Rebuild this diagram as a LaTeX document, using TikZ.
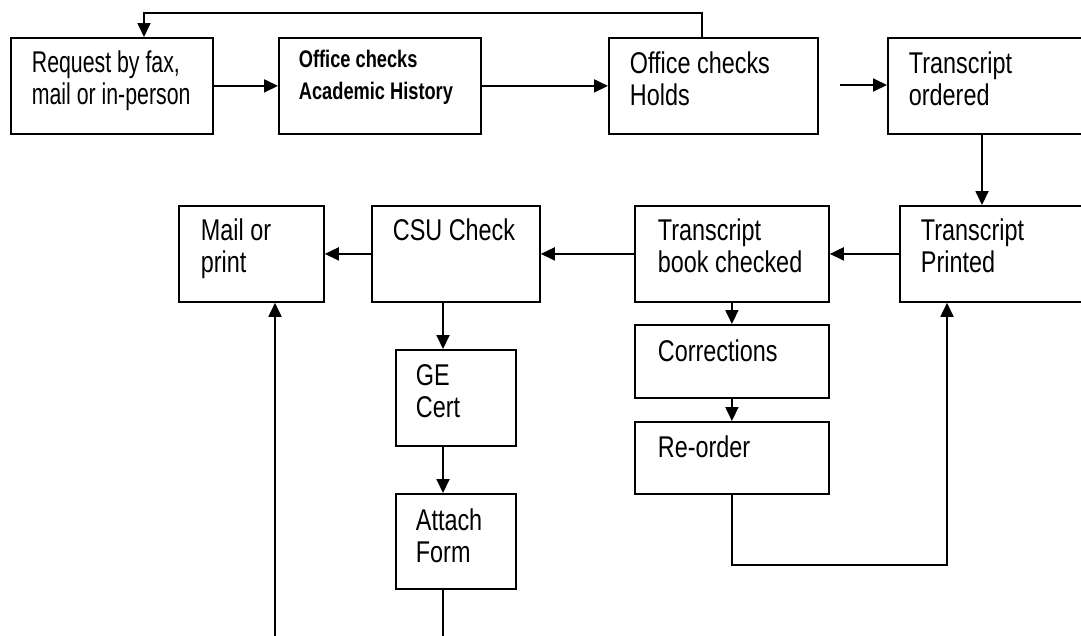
\documentclass[tikz,border=0pt]{standalone}
\usepackage{fontspec}
\setmainfont{Liberation Sans}[FakeStretch=0.78]
\newfontfamily\narrowbold{Liberation Sans Bold}[FakeStretch=0.76]
\usetikzlibrary{arrows.meta}
% stacked lines whose base is the first line's baseline
\newcommand\boxlines[1]{\begin{tabular}[t]{@{}l@{}}#1\end{tabular}}
\begin{document}
\begin{tikzpicture}[x=1pt,y=-1pt,
  line width=1.8pt,
  box/.style={draw, rectangle, inner sep=0pt, anchor=north west},
  txt/.style={anchor=base west, inner sep=0pt,
    font=\fontsize{30}{32}\selectfont},
  boldtxt/.style={txt, font=\fontsize{24}{32}\selectfont\narrowbold},
  arr/.style={-{Triangle[length=14pt,width=13pt]}}
]
\clip (0,0) rectangle (1081,635);

% boxes: top-left corner, width, height
\node[box, minimum width=202pt, minimum height=96pt] (req)   at (10,37)   {};
\node[box, minimum width=202pt, minimum height=96pt] (acad)  at (278,37)  {};
\node[box, minimum width=209pt, minimum height=96pt] (holds) at (608,37)  {};
\node[box, minimum width=210pt, minimum height=96pt] (ord)   at (887,37)  {};
\node[box, minimum width=145pt, minimum height=96pt] (mail)  at (178,205) {};
\node[box, minimum width=168pt, minimum height=96pt] (csu)   at (371,205) {};
\node[box, minimum width=194pt, minimum height=96pt] (book)  at (634,205) {};
\node[box, minimum width=200pt, minimum height=96pt] (prn)   at (899,205) {};
\node[box, minimum width=194pt, minimum height=73pt] (corr)  at (634,324) {};
\node[box, minimum width=194pt, minimum height=72pt] (reord) at (634,421) {};
\node[box, minimum width=120pt, minimum height=96pt] (ge)    at (395,349) {};
\node[box, minimum width=120pt, minimum height=95pt] (att)   at (395,493) {};

% box labels
\node[txt]     (reqt)   at (31,72)   {\scalebox{0.91}[1]{\boxlines{Request by fax,\\mail or in-person}}};
\node[boldtxt] (acadt)  at (298,67)  {\boxlines{Office checks\\Academic History}};
\node[txt]     (holdst) at (629,73)  {\boxlines{Office checks\\Holds}};
\node[txt]     (ordt)   at (908,73)  {\boxlines{Transcript\\ordered}};
\node[txt]     (mailt)  at (200,240) {\boxlines{Mail or\\print}};
\node[txt]     (csut)   at (392,240) {CSU Check};
\node[txt]     (bookt)  at (657,240) {\boxlines{Transcript\\book checked}};
\node[txt]     (prnt)   at (920,240) {\boxlines{Transcript\\Printed}};
\node[txt]     (corrt)  at (657,361) {Corrections};
\node[txt]     (reordt) at (657,457) {Re-order};
\node[txt]     (get)    at (415,385) {\boxlines{GE\\Cert}};
\node[txt]     (attt)   at (415,530) {\boxlines{Attach\\Form}};

% route points
\coordinate (loopR) at (702,13);
\coordinate (loopL) at (144,13);
\coordinate (ordin) at (840,85);
\coordinate (ordx)  at (982,0);
\coordinate (loopC) at (947,565);
\coordinate (gex)   at (443,0);
\coordinate (attend) at (443,640);
\coordinate (mailin) at (275,640);

% connectors
\draw[arr] (holds.north -| loopR) -- (loopR) -- (loopL) -- (loopL |- req.north);
\draw[arr] (req.east) -- (acad.west);
\draw[arr] (acad.east) -- (holds.west);
\draw[arr] (ordin) -- (ordin -| ord.west);
\draw[arr] (ordx |- ord.south) -- (ordx |- prn.north);
\draw[arr] (prn.west) -- (book.east);
\draw[arr] (book.west) -- (csu.east);
\draw[arr] (csu.west) -- (mail.east);
\draw[arr] (book.south) -- (corr.north);
\draw[arr] (corr.south) -- (reord.north);
\draw[arr] (reord.south) |- (loopC) -- (loopC |- prn.south);
\draw[arr] (gex |- csu.south) -- (gex |- ge.north);
\draw[arr] (gex |- ge.south) -- (gex |- att.north);
\draw (gex |- att.south) -- (attend);
\draw[arr] (mailin) -- (mailin |- mail.south);
\end{tikzpicture}
\end{document}
